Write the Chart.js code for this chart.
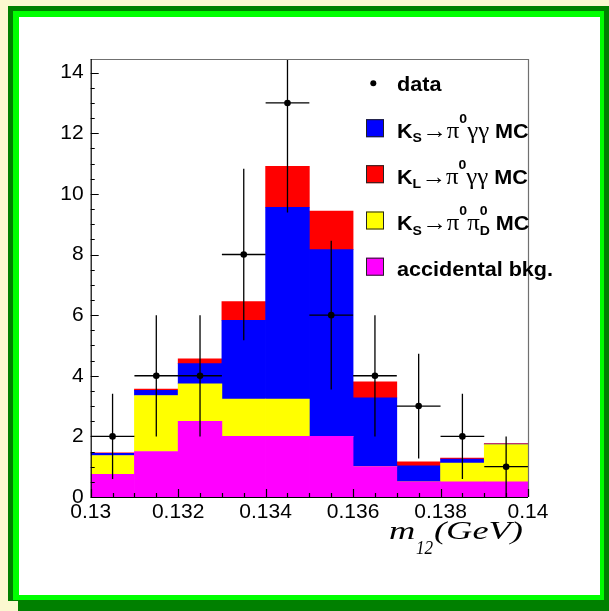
<!DOCTYPE html>
<html>
<head>
<meta charset="utf-8">
<script src="https://cdn.jsdelivr.net/npm/chart.js@4.4.0/dist/chart.umd.min.js"></script>
<style>
  html, body { margin: 0; padding: 0; background: #fbf8d0; }
</style>
</head>
<body>
<canvas id="chart" width="609" height="611"></canvas>
<script>
// bin centres of the m12 histogram (GeV), bins are 0.001 wide
var binCenters = [0.1305, 0.1315, 0.1325, 0.1335, 0.1345, 0.1355, 0.1365, 0.1375, 0.1385, 0.1395];
var binWidth = 0.001;

// stacked MC components, bottom to top
var accidentalBkg = [0.75, 1.5, 2.5, 2.0, 2.0, 2.0, 1.0, 0.5, 0.5, 0.5];
var ksPi0Pi0D = [0.62, 1.85, 1.23, 1.23, 1.23, 0, 0, 0, 0.62, 1.23];
var ksPi0gg = [0.07, 0.17, 0.67, 2.60, 6.33, 6.16, 2.27, 0.53, 0.13, 0.02];
var klPi0gg = [0.02, 0.04, 0.16, 0.62, 1.35, 1.27, 0.53, 0.13, 0.03, 0.01];

// data points and their errors
var dataCounts = [2, 4, 4, 8, 13, 6, 4, 3, 2, 1];
var dataErrors = [1.41, 2, 2, 2.83, 3.61, 2.45, 2, 1.73, 1.41, 1];

var xTicks = [0.13, 0.132, 0.134, 0.136, 0.138, 0.14];
var yTicks = [0, 2, 4, 6, 8, 10, 12, 14];
var yMax = 14.45;

function toPoints(values) {
  let pts = [];
  for (let i = 0; i < binCenters.length; i++) {
    pts.push({ x: binCenters[i], y: values[i] });
  }
  return pts;
}

function barSet(label, values, color) {
  return {
    type: 'bar',
    label: label,
    data: toPoints(values),
    backgroundColor: color,
    borderWidth: 0,
    barPercentage: 1,
    categoryPercentage: 1,
    order: 1
  };
}

// canvas frame (ROOT style green border)
const framePlugin = {
  id: 'frame',
  beforeDraw(chart) {
    const ctx = chart.ctx;
    ctx.save();
    ctx.fillStyle = '#fbf8d0';
    ctx.fillRect(0, 0, 609, 611);
    ctx.fillStyle = '#008000';
    ctx.fillRect(8, 6, 601, 595);
    ctx.fillRect(18, 601, 591, 10);
    ctx.fillStyle = '#00ff00';
    ctx.fillRect(13, 11, 591, 589);
    ctx.fillStyle = '#ffffff';
    ctx.fillRect(19, 17, 581, 578);
    ctx.restore();
  }
};

// text pieces drawn one after another (sub/superscripts), stretched a bit
function drawRich(ctx, x, y, parts, sx) {
  ctx.save();
  ctx.translate(x, y);
  ctx.scale(sx, 1);
  let cx = 0;
  parts.forEach(function(p) {
    ctx.font = p.f;
    ctx.fillText(p.t, cx, p.dy || 0);
    if (!p.stay) {
      cx += ctx.measureText(p.t).width;
    }
  });
  ctx.restore();
}

// error bars, axes with inward ticks, legend and axis title
const decorPlugin = {
  id: 'decor',
  afterDatasetsDraw(chart) {
    const ctx = chart.ctx;
    const xs = chart.scales.x;
    const ys = chart.scales.y;
    const a = chart.chartArea;
    ctx.save();
    ctx.beginPath();
    ctx.rect(a.left, a.top, a.right - a.left, a.bottom - a.top);
    ctx.clip();
    ctx.strokeStyle = '#000';
    ctx.lineWidth = 1.3;
    for (let i = 0; i < binCenters.length; i++) {
      let px = xs.getPixelForValue(binCenters[i]);
      let py = ys.getPixelForValue(dataCounts[i]);
      ctx.beginPath();
      ctx.moveTo(px, ys.getPixelForValue(dataCounts[i] - dataErrors[i]));
      ctx.lineTo(px, ys.getPixelForValue(dataCounts[i] + dataErrors[i]));
      ctx.moveTo(xs.getPixelForValue(binCenters[i] - binWidth / 2), py);
      ctx.lineTo(xs.getPixelForValue(binCenters[i] + binWidth / 2), py);
      ctx.stroke();
    }
    ctx.restore();
  },
  afterDraw(chart) {
    const ctx = chart.ctx;
    const xs = chart.scales.x;
    const ys = chart.scales.y;
    const a = chart.chartArea;
    ctx.save();

    // top and right of the frame
    ctx.strokeStyle = '#707070';
    ctx.lineWidth = 1.2;
    ctx.beginPath();
    ctx.moveTo(a.left, a.top + 0.5);
    ctx.lineTo(a.right + 0.5, a.top + 0.5);
    ctx.lineTo(a.right + 0.5, a.bottom);
    ctx.stroke();

    // axes
    ctx.strokeStyle = '#000';
    ctx.lineWidth = 1.2;
    ctx.beginPath();
    ctx.moveTo(a.left + 0.5, a.top);
    ctx.lineTo(a.left + 0.5, a.bottom + 0.5);
    ctx.lineTo(a.right, a.bottom + 0.5);
    ctx.stroke();

    ctx.beginPath();
    for (let v = 0; v <= yMax; v += 0.5) {
      let py = Math.round(ys.getPixelForValue(v)) + 0.5;
      let len = (yTicks.indexOf(v) >= 0) ? 8 : 4;
      ctx.moveTo(a.left, py);
      ctx.lineTo(a.left + len, py);
    }
    for (let k = 0; k <= 20; k++) {
      let v = 0.13 + k * 0.0005;
      let px = Math.round(xs.getPixelForValue(v)) + 0.5;
      let len = (k % 4 == 0) ? 8 : 4;
      ctx.moveTo(px, a.bottom);
      ctx.lineTo(px, a.bottom - len);
    }
    ctx.stroke();

    // legend
    ctx.fillStyle = '#000';
    ctx.beginPath();
    ctx.arc(373.3, 83.3, 3, 0, Math.PI * 2);
    ctx.fill();
    ctx.textBaseline = 'alphabetic';
    ctx.textAlign = 'left';
    const bold = 'bold 20px "Liberation Sans"';
    const small = 'bold 13px "Liberation Sans"';
    const sym = '23px "Liberation Serif"';
    const sx = 1.08;
    drawRich(ctx, 397, 91, [{ t: 'data', f: bold }], sx);

    const rows = [
      { c: '#0000ff', y: 128.2, parts: [
        { t: 'K', f: bold }, { t: 'S', f: small, dy: 4.5 }, { t: '\u2192', f: sym },
        { t: '\u03c0', f: sym }, { t: '0', f: small, dy: -15 }, { t: '\u03b3\u03b3', f: sym }, { t: ' MC', f: bold }] },
      { c: '#ff0000', y: 174.2, parts: [
        { t: 'K', f: bold }, { t: 'L', f: small, dy: 4.5 }, { t: '\u2192', f: sym },
        { t: '\u03c0', f: sym }, { t: '0', f: small, dy: -15 }, { t: '\u03b3\u03b3', f: sym }, { t: ' MC', f: bold }] },
      { c: '#ffff00', y: 220.5, parts: [
        { t: 'K', f: bold }, { t: 'S', f: small, dy: 4.5 }, { t: '\u2192', f: sym },
        { t: '\u03c0', f: sym }, { t: '0', f: small, dy: -15 }, { t: '\u03c0', f: sym },
        { t: '0', f: small, dy: -15, stay: true }, { t: 'D', f: small, dy: 4.5 }, { t: ' MC', f: bold }] },
      { c: '#ff00ff', y: 266.7, parts: [{ t: 'accidental bkg.', f: bold }] }
    ];
    rows.forEach(function(r) {
      ctx.fillStyle = r.c;
      ctx.fillRect(366, r.y - 9, 18, 18);
      ctx.strokeStyle = '#222';
      ctx.lineWidth = 1;
      ctx.strokeRect(366.5, r.y - 8.5, 17, 17);
      ctx.fillStyle = '#000';
      drawRich(ctx, 397, r.y + 9.5, r.parts, sx);
    });

    // x axis title
    drawRich(ctx, 389, 539, [{ t: 'm', f: 'italic 26px "Liberation Serif"' }], 1.4);
    drawRich(ctx, 416, 554, [{ t: '12', f: 'italic 19px "Liberation Serif"' }], 0.9);
    drawRich(ctx, 434, 539, [{ t: '(GeV)', f: 'italic 26px "Liberation Serif"' }], 1.4);

    ctx.restore();
  }
};

new Chart(document.getElementById('chart'), {
  type: 'bar',
  data: {
    datasets: [
      {
        type: 'scatter',
        label: 'data',
        data: toPoints(dataCounts),
        pointRadius: 3.3,
        pointBackgroundColor: '#000',
        pointBorderWidth: 0,
        showLine: false,
        clip: false,
        order: 0
      },
      barSet('accidental bkg.', accidentalBkg, '#ff00ff'),
      barSet('KS pi0 pi0D MC', ksPi0Pi0D, '#ffff00'),
      barSet('KS pi0 gg MC', ksPi0gg, '#0000ff'),
      barSet('KL pi0 gg MC', klPi0gg, '#ff0000')
    ]
  },
  options: {
    responsive: false,
    animation: false,
    devicePixelRatio: 1,
    layout: { padding: { left: 0, right: 81, top: 59, bottom: 0 } },
    plugins: { legend: { display: false }, tooltip: { enabled: false } },
    scales: {
      x: {
        type: 'linear',
        min: 0.13,
        max: 0.14,
        offset: false,
        stacked: true,
        grid: { display: false, drawTicks: false },
        border: { display: false },
        ticks: {
          color: '#000',
          font: { family: 'Liberation Sans', size: 21 },
          padding: 3,
          maxRotation: 0,
          autoSkip: false,
          callback: function(v) { return parseFloat(v.toFixed(3)).toString(); }
        },
        afterBuildTicks: function(s) { s.ticks = xTicks.map(function(v) { return { value: v }; }); },
        afterFit: function(s) { s.height = 114; }
      },
      y: {
        min: 0,
        max: yMax,
        stacked: true,
        grid: { display: false, drawTicks: false },
        border: { display: false },
        ticks: {
          color: '#000',
          font: { family: 'Liberation Sans', size: 21 },
          padding: 7
        },
        afterBuildTicks: function(s) { s.ticks = yTicks.map(function(v) { return { value: v }; }); },
        afterFit: function(s) { s.width = 90.7; }
      }
    }
  },
  plugins: [framePlugin, decorPlugin]
});
</script>
</body>
</html>
